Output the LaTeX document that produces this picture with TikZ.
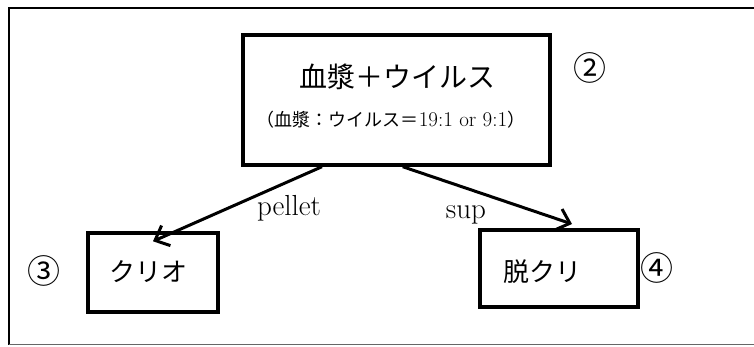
\documentclass[tikz,border=0pt]{standalone}
\usepackage{fontspec}
\newfontfamily\cjk{Noto Sans CJK JP}
\usetikzlibrary{arrows.meta,calc}
\begin{document}
\begin{tikzpicture}[x=1pt,y=-1pt,
  boxstyle/.style={draw=black,line width=3.4pt,inner sep=0pt,fill=white},
  arrowstyle/.style={line width=3pt,-{Straight Barb[length=12pt,width=22pt,line width=3pt]}},
  frame/.style={line width=2pt},
  lbl/.style={font=\fontsize{29}{30}\selectfont,inner sep=0pt,anchor=base},
  circ/.style={font=\cjk\fontsize{33}{34}\selectfont,inner sep=0pt}]
\useasboundingbox (0,0) rectangle (754,346);
% outer frame
\draw[frame] (754,8) -- (9,8) -- (9,345);
\draw[line width=1pt,black!60] (9,344.5) -- (754,344.5);
% main box
\node[boxstyle,minimum width=307pt,minimum height=130pt] (main) at (396.5,100) {};
\node[font=\cjk\fontsize{28}{30}\selectfont,inner sep=0pt] (t1) at (397,77) {血漿＋ウイルス};
\node[font=\cjk\fontsize{18}{20}\selectfont,inner sep=0pt] (t2) at (391,120) {（血漿：ウイルス＝{\rmfamily\fontsize{21}{22}\selectfont 19:1 or 9:1}）};
\node[circ] (n2) at (590,68) {②};
% lower boxes
\node[boxstyle,minimum width=130pt,minimum height=79pt] (cryo) at (153,272.5) {};
\node[font=\cjk\fontsize{26}{28}\selectfont,inner sep=0pt] (cryot) at (148,272) {クリオ};
\node[circ] (n3) at (44,271) {③};
\node[boxstyle,minimum width=158pt,minimum height=77pt] (dcryo) at (559,268.5) {};
\node[font=\cjk\fontsize{26}{28}\selectfont,inner sep=0pt] (dcryot) at (542,272) {脱クリ};
\node[circ] (n4) at (657,268) {④};
% arrows
\coordinate (s1) at ($(main.south west)!0.26!(main.south east)$);
\coordinate (s2) at ($(main.south west)!0.52!(main.south east)$);
\coordinate (e2) at (572,224);
\draw[arrowstyle] (s1) -- ([yshift=-10pt]cryo.north);
\draw[arrowstyle] (s2) -- (e2);
\node[lbl] (pel) at (289,215) {pellet};
\node[lbl] (sup) at (466,218) {sup};
\end{tikzpicture}
\end{document}
